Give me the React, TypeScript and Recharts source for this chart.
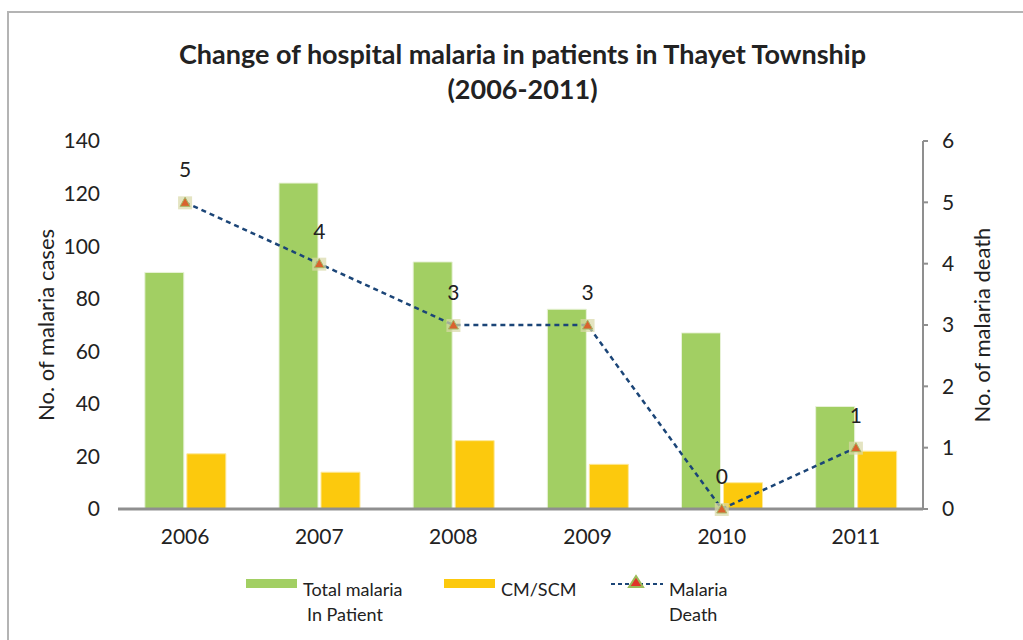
import React from "react";
import {
  ComposedChart,
  Bar,
  Line,
  XAxis,
  YAxis,
  LabelList,
  Legend,
} from "recharts";

// values
const years = ["2006", "2007", "2008", "2009", "2010", "2011"];
const totalInPatient = [90, 124, 94, 76, 67, 39];
const cmScm = [21, 14, 26, 17, 10, 22];
const malariaDeath = [5, 4, 3, 3, 0, 1];
const leftTicks = [0, 20, 40, 60, 80, 100, 120, 140];
const rightTicks = [0, 1, 2, 3, 4, 5, 6];

const GREEN = "#a2cf63";
const YELLOW = "#fcc90d";
const NAVY = "#1b4577";
const AXIS = "#8f8f8f";
const TEXT = "#222222";
const FONT = "Lato, sans-serif";

const chartData = years.map((year, i) => ({
  year,
  total: totalInPatient[i],
  cm: cmScm[i],
  death: malariaDeath[i],
}));

function TriangleDot(props: any) {
  const { cx, cy } = props;
  if (cx == null || cy == null) return null;
  return (
    <g>
      <rect x={cx - 7} y={cy - 6} width={14} height={13} fill="#d8d9a8" opacity={0.7} />
      <path
        d={`M${cx},${cy - 5} L${cx + 5},${cy + 4} L${cx - 5},${cy + 4} Z`}
        fill="#d9622e"
        stroke="#a5b866"
        strokeWidth={1}
      />
    </g>
  );
}

function ChartLegend() {
  const txt: React.CSSProperties = {
    position: "absolute",
    fontFamily: FONT,
    fontSize: 18,
    color: TEXT,
    lineHeight: "22px",
    whiteSpace: "nowrap",
  };
  return (
    <div style={{ position: "relative", width: 1023, height: 60 }}>
      <div style={{ position: "absolute", left: 246, top: 11, width: 51, height: 9, background: GREEN }} />
      <div style={{ ...txt, left: 303, top: 10 }}>Total malaria</div>
      <div style={{ ...txt, left: 307, top: 35 }}>In Patient</div>

      <div style={{ position: "absolute", left: 444, top: 11, width: 51, height: 9, background: YELLOW }} />
      <div style={{ ...txt, left: 501, top: 10 }}>CM/SCM</div>

      <svg style={{ position: "absolute", left: 608, top: 4 }} width={58} height={24}>
        <line x1={3} y1={12} x2={55} y2={12} stroke={NAVY} strokeWidth={2} strokeDasharray="4 3" />
        <path d="M28,4 L35,15 L21,15 Z" fill="#e0342a" stroke="#9bbb59" strokeWidth={2} />
      </svg>
      <div style={{ ...txt, left: 669, top: 10 }}>Malaria</div>
      <div style={{ ...txt, left: 669, top: 35 }}>Death</div>
    </div>
  );
}

export default function App() {
  const tick = { fill: TEXT, fontSize: 21, fontFamily: FONT };
  return (
    <div
      style={{
        position: "absolute",
        left: 0,
        top: 0,
        width: 1023,
        height: 640,
        background: "#ffffff",
        overflow: "hidden",
      }}
    >
      <div
        style={{
          position: "absolute",
          left: 7,
          top: 11,
          right: -5,
          bottom: -5,
          borderLeft: "2px solid #b4b4b4",
          borderTop: "2px solid #b4b4b4",
        }}
      />
      <div
        style={{
          position: "absolute",
          left: 0,
          top: 36,
          width: 1045,
          textAlign: "center",
          fontFamily: FONT,
          fontWeight: 700,
          fontSize: 27,
          lineHeight: "35px",
          color: TEXT,
        }}
      >
        Change of hospital malaria in patients in Thayet Township
        <br />
        (2006-2011)
      </div>
      <div style={{ position: "absolute", left: 0, top: 0 }}>
        <ComposedChart
          width={1023}
          height={640}
          data={chartData}
          margin={{ top: 141, right: 30, bottom: 101, left: 48 }}
          barCategoryGap="20%"
          barGap={3}
        >
          <XAxis
            dataKey="year"
            tick={tick}
            tickLine={false}
            tickSize={0}
            tickMargin={20}
            axisLine={{ stroke: AXIS, strokeWidth: 3 }}
          />
          <YAxis
            yAxisId="left"
            width={70}
            domain={[0, 140]}
            ticks={leftTicks}
            tick={tick}
            axisLine={false}
            tickLine={false}
            tickSize={0}
            tickMargin={18}
            label={{
              value: "No. of malaria cases",
              angle: -90,
              position: "center",
              dx: -37,
              style: { fill: TEXT, fontSize: 22, fontFamily: FONT },
            }}
          />
          <YAxis
            yAxisId="right"
            orientation="right"
            width={70}
            domain={[0, 6]}
            ticks={rightTicks}
            tick={tick}
            axisLine={{ stroke: AXIS, strokeWidth: 2 }}
            tickLine={{ stroke: AXIS, strokeWidth: 2 }}
            tickSize={5}
            tickMargin={14}
            label={{
              value: "No. of malaria death",
              angle: -90,
              position: "center",
              dx: 24,
              style: { fill: TEXT, fontSize: 22, fontFamily: FONT },
            }}
          />
          <Legend
            layout="horizontal"
            verticalAlign="middle"
            align="center"
            content={() => <ChartLegend />}
            wrapperStyle={{ position: "absolute", left: 0, top: 568, width: 1023 }}
          />
          <Bar
            yAxisId="left"
            dataKey="total"
            name="Total malaria In Patient"
            fill={GREEN}
            stroke="#e8f2d8"
            strokeWidth={1}
            isAnimationActive={false}
          />
          <Bar
            yAxisId="left"
            dataKey="cm"
            name="CM/SCM"
            fill={YELLOW}
            stroke="#fde89a"
            strokeWidth={1}
            isAnimationActive={false}
          />
          <Line
            yAxisId="right"
            type="linear"
            dataKey="death"
            name="Malaria Death"
            stroke={NAVY}
            strokeWidth={2.5}
            strokeDasharray="5 4"
            dot={<TriangleDot />}
            activeDot={false}
            isAnimationActive={false}
          >
            <LabelList
              dataKey="death"
              position="top"
              offset={25}
              style={{ fill: TEXT, fontSize: 21, fontFamily: FONT }}
            />
          </Line>
        </ComposedChart>
      </div>
    </div>
  );
}
